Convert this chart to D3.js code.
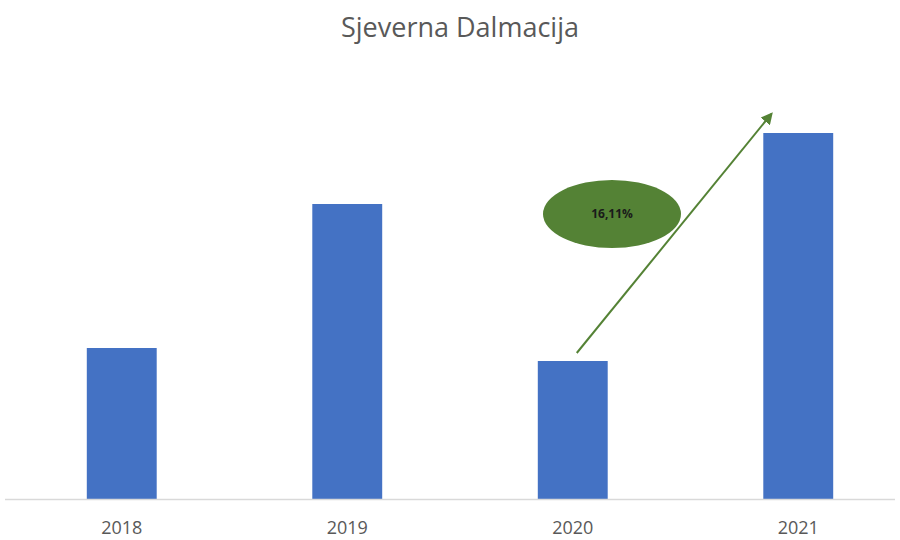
<!DOCTYPE html>
<html>
<head>
<meta charset="utf-8">
<script src="https://cdn.jsdelivr.net/npm/d3@7"></script>
<style>
	body { margin: 0; background: #fff; }
</style>
</head>
<body>
<script>
const years = ["2018", "2019", "2020", "2021"];
const values = [151, 295, 138, 366];
const growthLabel = "16,11%";

const width = 900;
const height = 540;

const svg = d3.select("body").append("svg")
	.attr("width", width)
	.attr("height", height)
	.style("font-family", "'Open Sans', 'Liberation Sans', sans-serif");

const xScale = d3.scaleBand()
	.domain(years)
	.range([9, 911])
	.paddingInner(0.69)
	.paddingOuter(0.345);

const yScale = d3.scaleLinear()
	.domain([0, 400])
	.range([499, 99]);

// title
svg.append("text")
	.attr("x", 460)
	.attr("y", 37)
	.attr("text-anchor", "middle")
	.attr("font-size", "27px")
	.attr("fill", "#595959")
	.text("Sjeverna Dalmacija");

svg.selectAll("rect.bar")
	.data(years)
	.enter()
	.append("rect")
	.attr("class", "bar")
	.attr("x", d => xScale(d))
	.attr("y", (d, i) => yScale(values[i]))
	.attr("width", xScale.bandwidth())
	.attr("height", (d, i) => yScale(0) - yScale(values[i]))
	.attr("fill", "#4472c4");

const xAxis = d3.axisBottom(xScale).tickSize(0);

const axisG = svg.append("g")
	.attr("transform", `translate(0,${yScale(0)})`)
	.call(xAxis);

axisG.select(".domain")
	.attr("d", "M5,0.5H895")
	.attr("stroke", "#d9d9d9")
	.attr("stroke-width", 1.5);

axisG.selectAll("text")
	.attr("y", 35)
	.attr("dy", 0)
	.attr("font-family", "'Open Sans', 'Liberation Sans', sans-serif")
	.attr("font-size", "18px")
	.attr("fill", "#595959");

// growth arrow from 2020 to 2021
const green = "#548235";
svg.append("defs").append("marker")
	.attr("id", "arrowhead")
	.attr("viewBox", "0 0 10 10")
	.attr("refX", 8)
	.attr("refY", 5)
	.attr("markerWidth", 6)
	.attr("markerHeight", 6)
	.attr("orient", "auto")
	.append("path")
	.attr("d", "M0,0L10,5L0,10z")
	.attr("fill", green);

const x2020 = xScale("2020") + xScale.bandwidth() / 2 + 4;
const x2021 = xScale("2021") + 8;
svg.append("line")
	.attr("x1", x2020)
	.attr("y1", yScale(values[2]) - 8)
	.attr("x2", x2021)
	.attr("y2", yScale(values[3]) - 19)
	.attr("stroke", green)
	.attr("stroke-width", 2)
	.attr("marker-end", "url(#arrowhead)");

svg.append("ellipse")
	.attr("cx", 612)
	.attr("cy", 214)
	.attr("rx", 69)
	.attr("ry", 34)
	.attr("fill", green);

svg.append("text")
	.attr("x", 612)
	.attr("y", 218)
	.attr("text-anchor", "middle")
	.attr("font-size", "12px")
	.attr("font-weight", "bold")
	.attr("fill", "#1a1a1a")
	.text(growthLabel);
</script>
</body>
</html>
